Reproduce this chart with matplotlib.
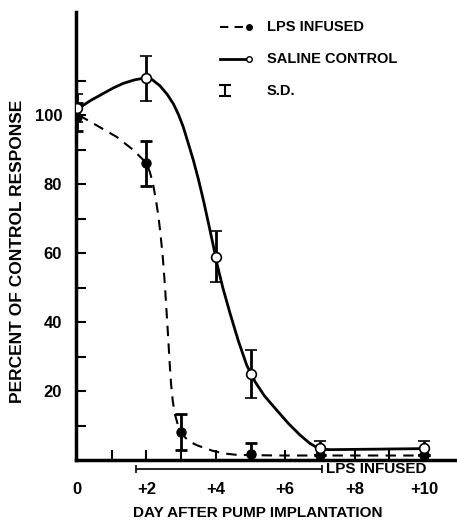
import numpy as np
import matplotlib
matplotlib.use('Agg')
import matplotlib.pyplot as plt

plt.rcParams['font.family'] = ['Liberation Sans', 'DejaVu Sans']
plt.rcParams['font.weight'] = 'bold'

# measured points (day, % of control response, s.d.)
days_lps = [0, 2, 3, 5, 7, 10]
lps = [99.5, 86, 8, 1.8, 1.5, 1.5]
lps_sd = [4, 6.5, 5.2, 3.2, 0, 0]

days_sal = [0, 2, 4, 5, 7, 10]
saline = [102, 110.7, 59, 25, 3.5, 3.5]
saline_sd = [4, 6.5, 7.5, 7, 2, 2]

# hand drawn fit curves
lps_curve_x = [0.05, 0.57, 1.14, 1.62, 1.99, 2.1, 2.2, 2.28, 2.34, 2.4, 2.47,
               2.53, 2.58, 2.63, 2.67, 2.71, 2.76, 2.82, 2.9, 3.0, 3.1, 3.25,
               3.45, 3.64, 3.9, 4.22, 4.6, 5.0, 5.95, 10.0]
lps_curve_y = [100, 97, 93.7, 89.9, 86.2, 83.5, 79.5, 75, 71, 66, 59,
               51, 43, 35, 28, 22, 17, 13.3, 10.4, 8.2, 6.7, 5.3,
               4.3, 3.6, 2.7, 1.9, 1.5, 1.4, 1.3, 1.3]
sal_curve_x = [0.05, 0.4, 0.76, 1.05, 1.33, 1.65, 1.96, 2.15, 2.39, 2.6, 2.78,
               2.93, 3.06, 3.2, 3.35, 3.5, 3.64, 3.78, 3.93, 4.03, 4.2, 4.41,
               4.65, 4.89, 5.13, 5.4, 5.75, 6.1, 6.43, 6.7, 6.9, 7.1, 7.3, 10.0]
sal_curve_y = [102, 104.3, 106.3, 107.9, 109.2, 110.2, 110.8, 110.4, 108.5, 106, 103.2,
               100, 96.6, 92, 87, 81.3, 75.4, 69, 62, 57, 50, 42.5,
               34.5, 27.5, 22.7, 18.6, 14.5, 10.5, 7.2, 4.9, 3.7, 3.1, 3.0, 3.3]

infused_from, infused_to = 1.7, 7.05

x_ticks = list(range(0, 11))
x_labels = ['0', '', '+2', '', '+4', '', '+6', '', '+8', '', '+10']
y_ticks = list(range(10, 120, 10))
y_labels = ['', '20', '', '40', '', '60', '', '80', '', '100', '']

fig = plt.figure(figsize=(4.57, 5.22), dpi=100)
ax = fig.add_axes([76/457, 62/522, 381/457, 448/522])

ax.plot(lps_curve_x, lps_curve_y, color='k', lw=1.5, ls=(0, (5, 3.5)), zorder=2)
ax.plot(sal_curve_x, sal_curve_y, color='k', lw=2, zorder=2)

ax.errorbar(days_lps, lps, yerr=lps_sd, fmt='o', color='k', ms=6.5,
            elinewidth=2, capsize=4.3, capthick=2, zorder=3)
ax.errorbar(days_sal, saline, yerr=saline_sd, fmt='o', color='k', mfc='white',
            mec='k', mew=1.2, ms=7, elinewidth=2, capsize=4.3, capthick=2, zorder=4)

ax.set_xlim(-0.03, 10.95)
ax.set_ylim(0, 129.9)
ax.spines['top'].set_visible(False)
ax.spines['right'].set_visible(False)
ax.spines['left'].set_linewidth(2.5)
ax.spines['bottom'].set_linewidth(2.5)

ax.set_xticks(x_ticks)
ax.set_xticklabels(x_labels, fontsize=12, fontweight='bold')
ax.set_yticks(y_ticks)
ax.set_yticklabels(y_labels, fontsize=12, fontweight='bold')
ax.tick_params(axis='x', direction='in', length=7, width=1.5, pad=16)
ax.tick_params(axis='y', direction='in', length=7.5, width=1.5, pad=10)

ax.set_xlabel('DAY AFTER PUMP IMPLANTATION', fontsize=11, fontweight='bold')
ax.xaxis.set_label_coords(0.478, -0.102)
ax.set_ylabel('PERCENT OF CONTROL RESPONSE', fontsize=12.5, fontweight='bold')
ax.yaxis.set_label_coords(-0.135, 0.4665)

# infusion period bar under the axis
ax.errorbar([(infused_from + infused_to) / 2], [-2.6],
            xerr=[(infused_to - infused_from) / 2], fmt='none', color='k',
            elinewidth=1.2, capsize=3, capthick=1.2, clip_on=False)
ax.text(infused_to + 0.12, -2.6, 'LPS INFUSED', fontsize=11, fontweight='bold',
        va='center', ha='left')

# legend
ax.plot([0.378, 0.452], [0.9665, 0.9665], transform=ax.transAxes, color='k',
        lw=1.5, ls=(0, (4, 3)))
ax.plot([0.454], [0.9665], 'o', transform=ax.transAxes, color='k', ms=4)
ax.text(0.501, 0.9665, 'LPS INFUSED', transform=ax.transAxes, fontsize=10.5,
        fontweight='bold', va='center')
ax.plot([0.378, 0.45], [0.895, 0.895], transform=ax.transAxes, color='k', lw=2)
ax.plot([0.454], [0.895], 'o', transform=ax.transAxes, color='k', mfc='white', ms=4, mew=1)
ax.text(0.501, 0.895, 'SALINE CONTROL', transform=ax.transAxes, fontsize=10.5,
        fontweight='bold', va='center')
ax.errorbar([0.391], [0.824], yerr=[0.012], transform=ax.transAxes, fmt='none',
            color='k', elinewidth=1.5, capsize=4, capthick=1.5)
ax.text(0.501, 0.824, 'S.D.', transform=ax.transAxes, fontsize=10.5,
        fontweight='bold', va='center')

fig.savefig('out.png', dpi=100)
